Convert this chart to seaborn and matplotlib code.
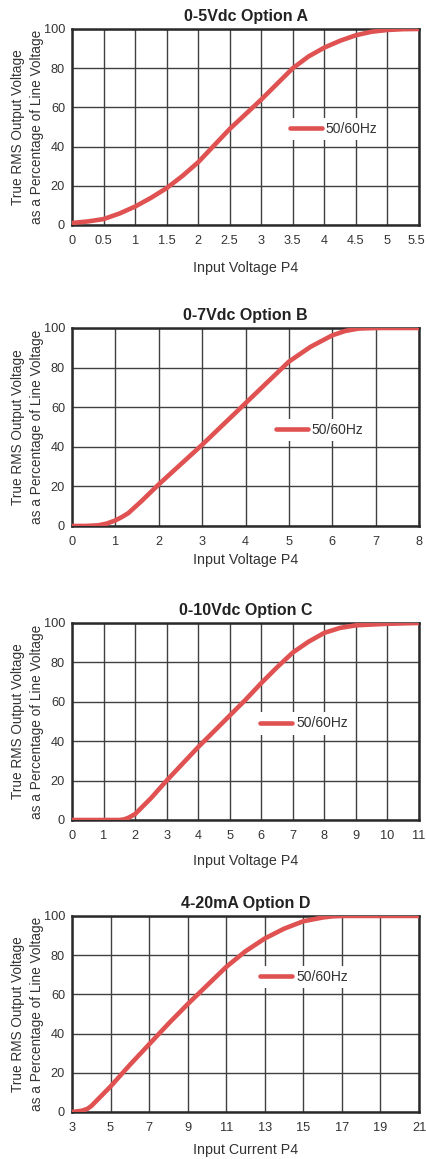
import numpy as np
import pandas as pd
import matplotlib
matplotlib.use("Agg")
import matplotlib.pyplot as plt
import matplotlib.transforms as mtransforms
import seaborn as sns

# ---- data ----
titles = ["0-5Vdc Option A", "0-7Vdc Option B", "0-10Vdc Option C", "4-20mA Option D"]
xlabels = ["Input Voltage P4", "Input Voltage P4", "Input Voltage P4", "Input Current P4"]

a_x = [0, 0.25, 0.5, 0.75, 1, 1.25, 1.5, 1.75, 2, 2.25, 2.5, 2.75, 3, 3.25, 3.5,
       3.75, 4, 4.25, 4.5, 4.75, 5, 5.25, 5.5]
a_y = [1, 1.8, 3, 5.8, 9.4, 13.8, 18.8, 25, 32, 40.5, 49, 56.5, 64, 72, 80,
       86, 90.5, 94, 96.8, 98.6, 99.5, 99.9, 100]

b_x = [0, 0.3, 0.6, 0.8, 1, 1.15, 1.3, 1.6, 2, 2.5, 3, 3.5, 4, 4.5, 5, 5.5, 6,
       6.3, 6.6, 7, 7.5, 8]
b_y = [0, 0, 0.3, 1.2, 2.8, 4.5, 6.5, 12.5, 21, 31, 41, 51.5, 62, 72.5, 83, 90.5, 96.3,
       98.5, 99.7, 100, 100, 100]

c_x = [0, 0.5, 1, 1.5, 1.65, 1.8, 2, 2.5, 3, 3.5, 4, 4.5, 5, 5.5, 6, 6.5, 7, 7.5,
       8, 8.5, 9, 10, 11]
c_y = [0, 0, 0, 0, 0.3, 1.2, 3, 11, 20, 28.5, 37, 45, 53, 61, 69.5, 77.5, 85, 90.5,
       95, 97.5, 98.8, 99.6, 100]

d_x = [3, 3.5, 3.8, 4, 4.5, 5, 6, 7, 8, 9, 10, 11, 12, 13, 14, 15, 16, 16.5,
       17, 19, 21]
d_y = [0, 0.6, 1.6, 3, 8, 13, 24, 34.5, 45, 55, 64.5, 74, 82, 88.5, 93.5, 97.3, 99.2, 99.8,
       100, 100, 100]

x_ticks = [
    [0, 0.5, 1, 1.5, 2, 2.5, 3, 3.5, 4, 4.5, 5, 5.5],
    [0, 1, 2, 3, 4, 5, 6, 7, 8],
    [0, 1, 2, 3, 4, 5, 6, 7, 8, 9, 10, 11],
    [3, 5, 7, 9, 11, 13, 15, 17, 19, 21],
]
y_ticks = [0, 20, 40, 60, 80, 100]
series = [(a_x, a_y), (b_x, b_y), (c_x, c_y), (d_x, d_y)]

# ---- layout (figure fractions) ----
LEFT, WIDTH = 0.169, 0.8146
AX_BOTTOMS = [0.8059, 0.5462, 0.2925, 0.0406]
AX_HEIGHTS = [0.1691, 0.1708, 0.1700, 0.1691]
LEG_POS = [(0.595, 0.49), (0.555, 0.485), (0.51, 0.49), (0.51, 0.69)]
XLAB_PAD = [10, 4, 9, 7]

RED = "#e05252"
GRID = "#404040"
FRAME = "#2a2a2a"
TEXT = "#333333"

sns.set_theme(style="white")
plt.rcParams["font.family"] = ["Liberation Sans", "DejaVu Sans"]

fig = plt.figure(figsize=(4.26, 11.59), dpi=100)

for i, (xs, ys) in enumerate(series):
    ax = fig.add_axes([LEFT, AX_BOTTOMS[i], WIDTH, AX_HEIGHTS[i]])
    df = pd.DataFrame({"x": xs, "y": ys})
    sns.lineplot(data=df, x="x", y="y", ax=ax, color=RED, linewidth=3.3,
                 label="50/60Hz", solid_capstyle="round", zorder=3)

    ticks = x_ticks[i]
    ax.set_xlim(ticks[0], ticks[-1])
    ax.set_ylim(0, 100)
    ax.set_xticks(ticks)
    ax.set_xticklabels([f"{t:g}" for t in ticks])
    ax.set_yticks(y_ticks)
    ax.grid(True, color=GRID, linewidth=1.0)
    ax.set_axisbelow(True)
    for sp in ax.spines.values():
        sp.set_color(FRAME)
        sp.set_linewidth(1.8)
    ax.tick_params(length=0, labelsize=9.2, colors=TEXT)
    ax.tick_params(axis="x", pad=7)
    ax.tick_params(axis="y", pad=5)

    # keep the last tick label of the first panel inside the figure
    if i == 0:
        last = ax.get_xticklabels()[-1]
        last.set_transform(last.get_transform() +
                           mtransforms.ScaledTranslation(-3 / 100, 0, fig.dpi_scale_trans))

    ax.set_title(titles[i], fontsize=11.5, fontweight="bold", pad=6, color="#222222")
    ax.set_xlabel(xlabels[i], fontsize=10.3, labelpad=XLAB_PAD[i], color=TEXT)
    ax.set_ylabel("True RMS Output Voltage\nas a Percentage of Line Voltage",
                  fontsize=9.8, labelpad=0, color=TEXT, linespacing=1.4)

    leg = ax.legend(loc="center left", bbox_to_anchor=LEG_POS[i], frameon=True,
                    fancybox=False, framealpha=1, edgecolor="white", fontsize=10,
                    handlelength=2.3, handletextpad=0.3, borderpad=0.3,
                    labelcolor=TEXT)
    leg.get_frame().set_linewidth(0)

fig.savefig("out.png", dpi=100)
